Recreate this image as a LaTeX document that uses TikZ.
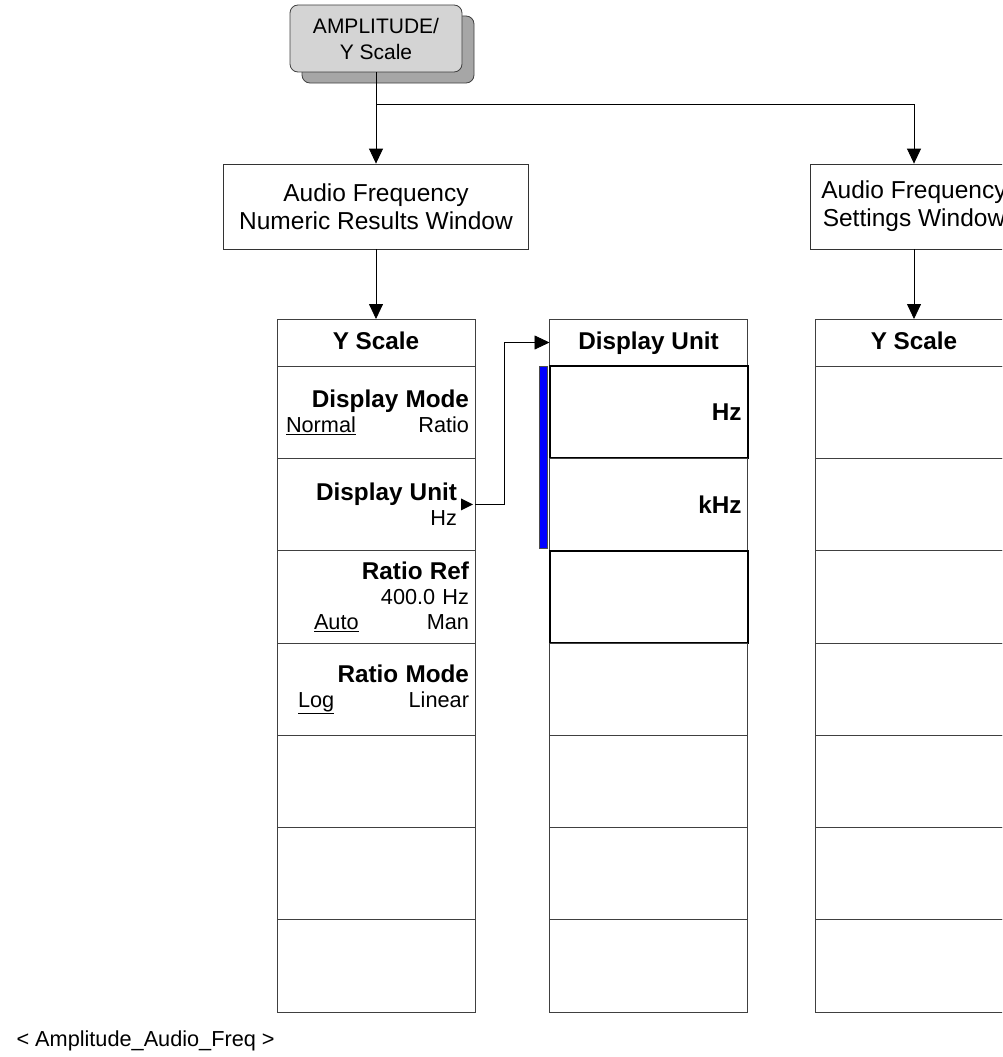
\documentclass[tikz,border=0pt]{standalone}
\usepackage{fontspec}
\setmainfont{Liberation Sans}
\usepackage{tikz}
\usetikzlibrary{arrows.meta, positioning}

\newcommand{\mtitle}[1]{{\fontsize{24.3}{25}\selectfont\bfseries #1}}
\newcommand{\mpair}[3]{\makebox[#1]{\underline{#2}\hfill #3}}

\begin{document}
\begin{tikzpicture}[
  x=1pt, y=-1pt,
  node distance=0pt,
  keybox/.style={rectangle, rounded corners=8pt, draw=black!75, line width=0.8pt,
    fill=gray!34, minimum width=172pt, minimum height=67pt, inner sep=0pt,
    align=center, font=\fontsize{21}{26}\selectfont},
  win/.style={rectangle, draw=black!80, line width=0.8pt, fill=white,
    minimum height=85pt, inner sep=0pt, align=center,
    font=\fontsize{24.5}{28}\selectfont},
  hdr/.style={rectangle, draw=black!75, line width=0.8pt, minimum width=198pt,
    minimum height=47pt, inner sep=0pt, outer sep=0pt,
    text height=19pt, text depth=5pt,
    font=\fontsize{24.3}{25}\selectfont\bfseries},
  item/.style={rectangle, draw=black!75, line width=0.8pt, text width=186pt,
    inner xsep=6pt, inner ysep=0pt, outer sep=0pt, minimum height=92.3pt,
    align=right, font=\fontsize{21.7}{25}\selectfont},
  sel/.style={item, draw=black, line width=2pt},
  arr/.style={-{Triangle[length=15pt, width=14pt]}, line width=0.8pt, black}
]
\path[use as bounding box, clip] (0,0) rectangle (1002,1057);

% front panel key
\node[keybox, fill=gray!70] (keysh) at (388,49.5) {};
\node[keybox] (key) at (376,38.5) {AMPLITUDE/\\Y Scale};
\coordinate (split) at (376,104);

% windows
\node[win, minimum width=305pt] (numwin) at (376,206.5) {Audio Frequency\\Numeric Results Window};
\node[win, minimum width=208pt] (setwin) at (914,206.5) {Audio Frequency\\Settings Window};

% Y Scale menu (numeric results)
\node[hdr] (ys1) at (376,342.5) {Y Scale};
\node[item, below=of ys1] (dmode) {\mtitle{Display Mode}\\\mpair{183pt}{Normal}{Ratio}};
\node[item, below=of dmode] (dunit) {\mtitle{Display Unit}\kern12pt\\Hz\kern12pt};
\node[item, below=of dunit] (rref) {\mtitle{Ratio Ref}\\400.0 Hz\\\mpair{155pt}{Auto}{Man}};
\node[item, below=of rref] (rmode) {\mtitle{Ratio Mode}\\\mpair{171pt}{Log}{Linear}};
\node[item, below=of rmode] (l6) {};
\node[item, below=of l6] (l7) {};
\node[item, below=of l7] (l8) {};

% Display Unit submenu
\node[hdr] (du) at (648.5,342.5) {Display Unit};
\node[sel, below=of du] (hz) {\mtitle{Hz}};
\node[item, below=of hz] (khz) {\mtitle{kHz}};
\node[sel, below=of khz] (m3) {};
\node[item, below=of m3] (m4) {};
\node[item, below=of m4] (m5) {};
\node[item, below=of m5] (m6) {};
\node[item, below=of m6] (m7) {};
\filldraw[fill=blue, draw=black!70, line width=0.5pt]
  ([xshift=-10pt]hz.north west) rectangle ([xshift=-2pt, yshift=2pt]khz.south west);

% Y Scale menu (settings)
\node[hdr] (ys2) at (914,342.5) {Y Scale};
\node[item, below=of ys2] (r1) {};
\node[item, below=of r1] (r2) {};
\node[item, below=of r2] (r3) {};
\node[item, below=of r3] (r4) {};
\node[item, below=of r4] (r5) {};
\node[item, below=of r5] (r6) {};
\node[item, below=of r6] (r7) {};

\draw[arr] (key.south) -- (numwin.north);
\draw[arr] (split) -| (setwin.north);
\draw[arr] (numwin.south) -- (ys1.north);
\draw[arr] (setwin.south) -- (ys2.north);
\fill (dunit.east) ++(-14,-6) -- ++(12,6) -- ++(-12,6) -- cycle;
\draw[arr] (dunit.east) -- ++(29,0) |- (du.west);

\node[anchor=base west, font=\fontsize{21.7}{26}\selectfont] (tag) at (13,1046)
  {< Amplitude\_Audio\_Freq >};
\end{tikzpicture}
\end{document}
